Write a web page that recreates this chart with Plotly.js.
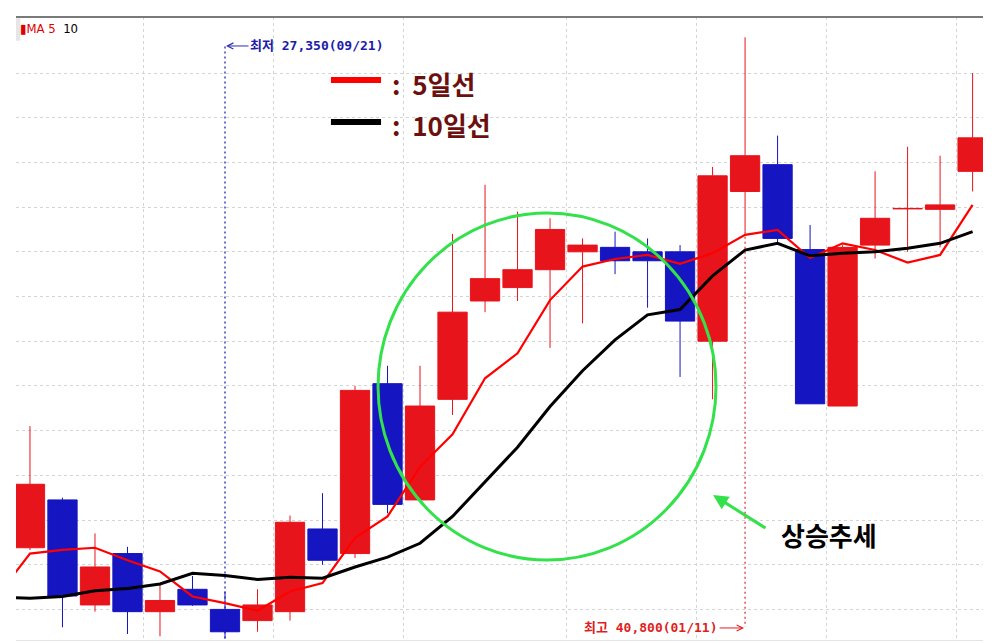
<!DOCTYPE html>
<html><head><meta charset="utf-8">
<script src="https://cdn.plot.ly/plotly-3.0.1.min.js"></script>
<style>html,body{margin:0;padding:0;background:#fff}#chart{width:1005px;height:643px}</style>
</head><body><div id="chart"></div>
<script>
// weekly dates (first week only feeds the moving-average lines)
const weeks = ['2020-08-03','2020-08-10','2020-08-17','2020-08-24','2020-08-31','2020-09-07','2020-09-14',
  '2020-09-21','2020-09-28','2020-10-05','2020-10-12','2020-10-19','2020-10-26','2020-11-02','2020-11-09',
  '2020-11-16','2020-11-23','2020-11-30','2020-12-07','2020-12-14','2020-12-21','2020-12-28','2021-01-04',
  '2021-01-11','2021-01-18','2021-01-25','2021-02-01','2021-02-08','2021-02-15','2021-02-22','2021-03-01'];

// candles for weeks[1..30]
const openP  = [29380,30450,28100,29250,27950,28450,28000,27750,27950,29800,29250,33050,30450,32700,34900,35200,35600,36000,36100,36000,36000,34000,37350,37950,36050,32550,36150,36960,36950,37800];
const highP  = [32100,30500,29700,29400,28550,28750,28400,28450,30100,30600,33000,33450,33450,36400,37500,36900,36750,36300,36450,36300,36150,37900,40800,38600,36600,36150,37800,38350,38150,40000];
const lowP   = [29330,27600,27950,27450,27400,28080,27350,27500,27750,29000,29150,30150,30400,32350,34650,34900,33850,34400,35500,34750,33200,32700,36450,36200,32600,32550,35850,36000,36100,37350];
const closeP = [30800,28300,28950,27950,28200,28100,27500,28100,29950,29100,32900,30350,32550,34650,35400,35600,36500,36150,35800,35800,34450,37700,38150,36300,32600,36100,36750,36970,37050,38550];

// moving averages for weeks[0..30]
const ma5  = [28300,29250,29330,29380,29100,28850,28290,28140,27970,28400,28590,29600,30080,31190,31920,33170,33730,34920,35670,35840,35930,35730,35970,36380,36490,35860,36190,36040,35760,35930,37050];
const ma10 = [28270,28250,28290,28420,28470,28570,28810,28760,28670,28720,28700,28950,29170,29480,30080,30860,31630,32540,33340,34030,34590,34710,35460,36040,36190,35910,35970,36000,36080,36190,36450];

const seriesNames = ['5일선', '10일선'];
const lowLabel = '최저 27,350(09/21)';
const highLabel = '최고 40,800(01/11)';
const trendLabel = '상승추세';

const xAll = weeks.map((d, i) => i);
const xCandle = xAll.slice(1);

// month boundaries -> vertical grid
const monthBounds = [];
for (let i = 1; i < weeks.length; i++) {
  if (weeks[i].slice(5, 7) !== weeks[i - 1].slice(5, 7)) monthBounds.push(i - 0.5);
}
const priceGrid = [];
for (let v = 28000; v <= 40000; v += 1000) priceGrid.push(v);

const yRange = [27316, 41253];
const lowVal = Math.min(...lowP), highVal = Math.max(...highP);
const lowX = xCandle[lowP.indexOf(lowVal)];
const highX = xCandle[highP.indexOf(highVal)];
const lowOfHigh = lowP[highP.indexOf(highVal)];
const yAt = f => yRange[0] + f * (yRange[1] - yRange[0]);

const RED = '#e8141b', BLUE = '#1515c2';
const KFONT = '"Noto Sans CJK KR", "Noto Sans", sans-serif';
const MFONT = '"DejaVu Sans Mono", "Noto Sans CJK KR", monospace';

const traces = [
  {
    type: 'candlestick', x: xCandle, open: openP, high: highP, low: lowP, close: closeP,
    increasing: {line: {color: RED, width: 1}, fillcolor: RED},
    decreasing: {line: {color: BLUE, width: 1}, fillcolor: BLUE},
    whiskerwidth: 0, showlegend: false, hoverinfo: 'skip'
  },
  {type: 'scatter', mode: 'lines', x: xAll, y: ma5, name: seriesNames[0],
   line: {color: '#ff0000', width: 2.2}, showlegend: false, hoverinfo: 'skip'},
  {type: 'scatter', mode: 'lines', x: xAll, y: ma10, name: seriesNames[1],
   line: {color: '#000000', width: 3}, showlegend: false, hoverinfo: 'skip'}
];

const GREEN = '#33e14b';
const layout = {
  width: 1005, height: 643,
  margin: {l: 16, r: 22, t: 17, b: 3},
  paper_bgcolor: '#ffffff', plot_bgcolor: '#ffffff',
  showlegend: false,
  boxgap: 0.1, boxgroupgap: 0,
  xaxis: {
    range: [0.57, 30.32], tickvals: monthBounds, showticklabels: false, ticks: '',
    showgrid: true, gridcolor: '#d4d4d4', griddash: 'dot', gridwidth: 1,
    zeroline: false, showline: true, linecolor: '#e4e4e4', linewidth: 1,
    rangeslider: {visible: false}, fixedrange: true
  },
  yaxis: {
    range: yRange, tickvals: priceGrid, showticklabels: false, ticks: '',
    showgrid: true, gridcolor: '#d4d4d4', griddash: 'dot', gridwidth: 1,
    zeroline: false, showline: false, fixedrange: true
  },
  shapes: [
    {type: 'line', xref: 'paper', yref: 'paper', x0: 0, x1: 1, y0: 1, y1: 1,
     line: {color: '#7a7a7a', width: 2}},
    {type: 'rect', xref: 'paper', yref: 'paper', x0: 0, x1: 0.0045, y0: 0.962, y1: 0.998,
     fillcolor: '#e6e6e6', line: {width: 0}},
    {type: 'line', xref: 'x', yref: 'y', x0: lowX, x1: lowX, y0: lowVal, y1: yAt(0.955),
     line: {color: '#2424b4', width: 1.3, dash: '2px,3px'}, layer: 'below'},
    {type: 'line', xref: 'x', yref: 'y', x0: highX, x1: highX, y0: lowOfHigh, y1: yAt(0.021),
     line: {color: '#d83838', width: 1.3, dash: '2px,3px'}, layer: 'below'},
    {type: 'line', xref: 'paper', yref: 'paper', x0: 0.3257, x1: 0.3775, y0: 0.8989, y1: 0.8989,
     line: {color: '#ff0000', width: 6}},
    {type: 'line', xref: 'paper', yref: 'paper', x0: 0.3257, x1: 0.3775, y0: 0.8315, y1: 0.8315,
     line: {color: '#000000', width: 6}},
    {type: 'circle', xref: 'paper', yref: 'paper', x0: 0.3744, x1: 0.7239, y0: 0.1284, y1: 0.6854,
     line: {color: GREEN, width: 3}}
  ],
  annotations: [
    {xref: 'paper', yref: 'paper', x: 0.002, y: 0.981, xanchor: 'left', yanchor: 'middle', showarrow: false,
     text: '<span style="color:#e00000">▮MA 5</span>\u00a0 <span style="color:#000">10</span>',
     font: {family: '"DejaVu Sans Condensed", "DejaVu Sans", sans-serif', size: 13}},
    {xref: 'x', yref: 'paper', x: lowX, y: 0.9535, ax: 92, ay: 0, showarrow: true,
     arrowhead: 5, arrowsize: 1.2, arrowwidth: 1, arrowcolor: '#2a2ab8', standoff: 1,
     text: lowLabel, font: {family: MFONT, size: 13, color: '#1c1ca8', weight: 'bold'}},
    {xref: 'x', yref: 'paper', x: highX, y: 0.0193, ax: -94, ay: 0, showarrow: true,
     arrowhead: 5, arrowsize: 1.2, arrowwidth: 1, arrowcolor: '#e02020', standoff: 1,
     text: highLabel, font: {family: MFONT, size: 13, color: '#e01e1e', weight: 'bold'}},
    {xref: 'paper', yref: 'paper', x: 0.3868, y: 0.8925, xanchor: 'left', yanchor: 'middle', showarrow: false,
     text: ':\u00a0\u00a0' + seriesNames[0], font: {family: KFONT, size: 26, color: '#6b0f0f', weight: 'bold'}},
    {xref: 'paper', yref: 'paper', x: 0.3868, y: 0.827, xanchor: 'left', yanchor: 'middle', showarrow: false,
     text: ':\u00a0\u00a0' + seriesNames[1], font: {family: KFONT, size: 26, color: '#6b0f0f', weight: 'bold'}},
    {xref: 'paper', yref: 'paper', x: 0.789, y: 0.170, xanchor: 'left', yanchor: 'middle', showarrow: false,
     text: trendLabel, font: {family: KFONT, size: 26, color: '#000000', weight: 'bold'}},
    {xref: 'paper', yref: 'paper', x: 0.7208, y: 0.2327, ax: 54, ay: 34, showarrow: true,
     arrowhead: 2, arrowsize: 1, arrowwidth: 3, arrowcolor: GREEN, text: '', standoff: 0}
  ]
};

Plotly.newPlot('chart', traces, layout, {displayModeBar: false, staticPlot: true});
</script></body></html>
